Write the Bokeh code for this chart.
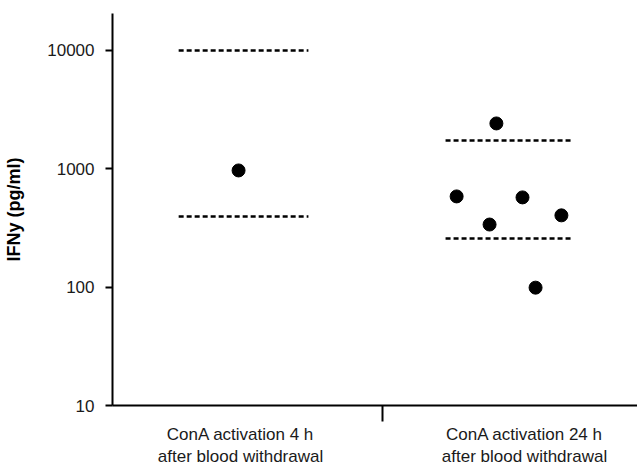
from bokeh.plotting import figure
from bokeh.models import Range1d, FixedTicker, NumeralTickFormatter, ColumnDataSource
from bokeh.embed import file_html
from bokeh.resources import INLINE

# ---- data ----
categories = ["ConA activation 4 h\nafter blood withdrawal",
              "ConA activation 24 h\nafter blood withdrawal"]
cat_pos = [1, 2]
y_ticks = [10, 100, 1000, 10000]

g1_x = [0.993]
g1_y = [968]
g2_x = [1.761, 1.901, 1.877, 1.993, 2.130, 2.039]
g2_y = [584, 2415, 338, 573, 404, 99]

ref_x0 = [0.782, 0.782, 1.722, 1.722]
ref_x1 = [1.239, 1.239, 2.169, 2.169]
ref_y = [10000, 395, 1736, 258]

FONT = "Liberation Sans"

p = figure(width=637, height=469, output_backend="svg", toolbar_location=None,
           y_axis_type="log", x_range=Range1d(0.549, 2.398), y_range=Range1d(10, 20500),
           min_border_left=112, min_border_right=0, min_border_top=13, min_border_bottom=64)
p.outline_line_color = None
p.grid.visible = False
p.background_fill_color = "white"
p.border_fill_color = "white"

p.segment(x0=ref_x0, y0=ref_y, x1=ref_x1, y1=ref_y, line_color="black",
          line_width=2.5, line_dash="5 3")
src = ColumnDataSource(dict(x=g1_x + g2_x, y=g1_y + g2_y))
p.scatter("x", "y", source=src, size=13, fill_color="black", line_color="black")

# y axis
ya = p.yaxis[0]
ya.ticker = FixedTicker(ticks=y_ticks, minor_ticks=[])
ya.formatter = NumeralTickFormatter(format="0")
ya.axis_line_width = 2
ya.axis_line_color = "black"
ya.major_tick_line_width = 2
ya.major_tick_out = 7
ya.major_tick_in = 0
ya.minor_tick_line_color = None
ya.minor_tick_out = 0
ya.major_label_text_font = FONT
ya.major_label_text_font_size = "17px"
ya.major_label_text_color = "#1a1a1a"
ya.major_label_standoff = 11
ya.axis_label = "IFNy (pg/ml)"
ya.axis_label_text_font = FONT
ya.axis_label_text_font_style = "bold"
ya.axis_label_text_font_size = "18px"
ya.axis_label_text_color = "black"
ya.axis_label_standoff = 20

# x axis
xa = p.xaxis[0]
xa.ticker = FixedTicker(ticks=cat_pos, minor_ticks=[1.5])
xa.major_label_overrides = {k: v for k, v in zip(cat_pos, categories)}
xa.axis_line_width = 2
xa.axis_line_color = "black"
xa.major_tick_out = 0
xa.major_tick_in = 0
xa.major_tick_line_color = None
xa.minor_tick_out = 16
xa.minor_tick_in = 0
xa.minor_tick_line_width = 2
xa.minor_tick_line_color = "black"
xa.major_label_text_font = FONT
xa.major_label_text_font_size = "17px"
xa.major_label_text_color = "#1a1a1a"
xa.major_label_standoff = 3

open("out.html", "w").write(file_html(p, INLINE))
